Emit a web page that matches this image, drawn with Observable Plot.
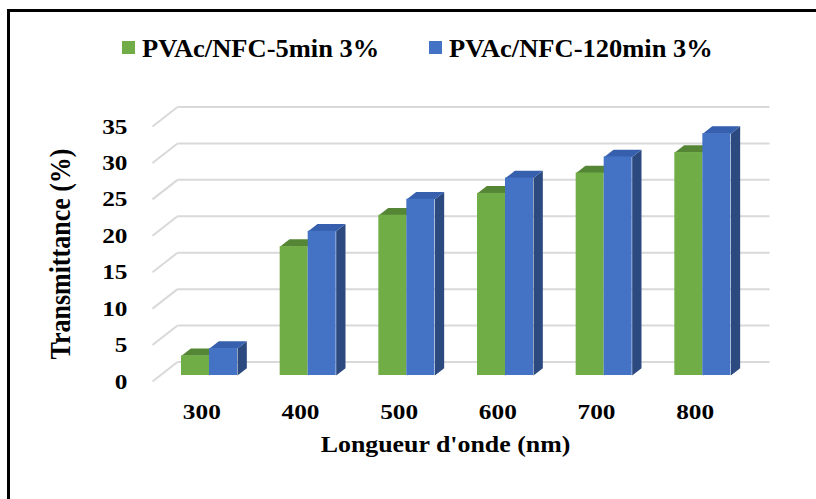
<!DOCTYPE html>
<html><head><meta charset="utf-8">
<script src="https://cdn.jsdelivr.net/npm/d3@7"></script>
<script src="https://cdn.jsdelivr.net/npm/@observablehq/plot@0.6"></script>
<style>
html,body{margin:0;padding:0;background:#fff;overflow:hidden;}
#wrap{position:relative;width:816px;height:499px;overflow:hidden;font-family:"Liberation Serif","Times New Roman",serif;font-weight:bold;}
#frameTop{position:absolute;left:7px;top:9px;width:809px;height:3px;background:#000;pointer-events:none;}
#frameLeft{position:absolute;left:7px;top:9px;width:3px;height:490px;background:#000;pointer-events:none;}
#legend{position:relative;height:70px;}
.sw{position:absolute;top:41px;width:13px;height:13px;}
.lab{position:absolute;top:35.5px;white-space:nowrap;font-size:25px;line-height:25px;transform:scaleX(1.06);transform-origin:0 50%;color:#000;}
#chart svg{display:block;}
</style></head>
<body><div id="wrap"><div id="legend"></div><div id="chart"></div><div id="frameTop"></div><div id="frameLeft"></div></div>
<script>
// ---- data ----
const categories = ["300", "400", "500", "600", "700", "800"];
const seriesNames = ["PVAc/NFC-5min 3%", "PVAc/NFC-120min 3%"];
const pvac5min = [2.7, 17.7, 22.0, 25.0, 27.8, 30.6];
const pvac120min = [3.7, 19.8, 24.2, 27.1, 30.0, 33.2];
const yTicks = [0, 5, 10, 15, 20, 25, 30, 35];
const xTitle = "Longueur d'onde (nm)";
const yTitle = "Transmittance (%)";

// ---- styles ----
const frontColors = ["#70AD47", "#4472C4"];
const topColors = ["#558636", "#3660ad"];
const sideColors = ["#4b7a2f", "#2c4a80"];
const gridColor = "#d9d9d9";
const font = `"Liberation Serif","Times New Roman",serif`;

// ---- legend (HTML) ----
const legend = document.getElementById("legend");
const legendLeft = [122, 429];
seriesNames.forEach((name, s) => {
  const sw = document.createElement("div");
  sw.className = "sw";
  sw.style.left = legendLeft[s] + "px";
  sw.style.background = frontColors[s];
  legend.appendChild(sw);
  const lab = document.createElement("div");
  lab.className = "lab";
  lab.style.left = (legendLeft[s] + 20) + "px";
  lab.textContent = name;
  legend.appendChild(lab);
});

// ---- layout & pseudo-3D geometry ----
const W = 816, H = 429;
const mL = 152, mR = 72, mT = 56, mB = 118;
const yMax = d3.max(yTicks);
const pxX = (W - mL - mR) / categories.length;
const pxY = (H - mT - mB) / yMax;
const wallDX = 25, wallDY = 19.5;     // depth of the floor, px
const z0 = 0.307, z1 = 0.68;          // bar front/back depth fraction
const barW = 28 / pxX;                // bar width in x units
const proj = (x, y, z) => ({x: x + z * wallDX / pxX, y: y + z * wallDY / pxY});

const series = [pvac5min, pvac120min];
const fronts = [[], []], tops = [[], []], sides = [[], []];
series.forEach((vals, s) => {
  vals.forEach((v, i) => {
    const cx = i + 0.5;
    const xl = cx - barW + s * barW, xr = xl + barW;
    const a = proj(xl, 0, z0), b = proj(xr, v, z0);
    fronts[s].push({x1: a.x, x2: b.x, y1: a.y, y2: b.y});
    const id = categories[i] + "-" + s;
    [proj(xl, v, z0), proj(xr, v, z0), proj(xr, v, z1), proj(xl, v, z1)]
      .forEach(p => tops[s].push({id, ...p}));
    [proj(xr, 0, z0), proj(xr, v, z0), proj(xr, v, z1), proj(xr, 0, z1)]
      .forEach(p => sides[s].push({id, ...p}));
  });
});

const marks = [];
// back wall gridlines and left-side diagonals
marks.push(Plot.link(yTicks, {
  x1: d => proj(0, d, 1).x, y1: d => proj(0, d, 1).y,
  x2: d => proj(categories.length, d, 1).x, y2: d => proj(categories.length, d, 1).y,
  stroke: gridColor, strokeWidth: 2
}));
marks.push(Plot.link(yTicks, {
  x1: 0, y1: d => d,
  x2: d => proj(0, d, 1).x, y2: d => proj(0, d, 1).y,
  stroke: gridColor, strokeWidth: 2
}));
// bars
[0, 1].forEach(s => {
  marks.push(Plot.line(sides[s], {x: "x", y: "y", z: "id", fill: sideColors[s], stroke: "none"}));
  marks.push(Plot.line(tops[s], {x: "x", y: "y", z: "id", fill: topColors[s], stroke: "none"}));
  marks.push(Plot.rect(fronts[s], {x1: "x1", x2: "x2", y1: "y1", y2: "y2", fill: frontColors[s]}));
});
// tick labels & titles
marks.push(Plot.text(yTicks, {
  x: 0, y: d => d, text: d => String(d), textAnchor: "end", dx: -25,
  fontSize: 22, fontWeight: "bold", fontFamily: font, fill: "#000", className: "stretch"
}));
marks.push(Plot.text(categories, {
  x: (d, i) => i + 0.5, y: 0, text: d => d, dy: 30,
  fontSize: 22, fontWeight: "bold", fontFamily: font, fill: "#000", className: "stretch"
}));
marks.push(Plot.text([xTitle], {
  frameAnchor: "bottom", textAnchor: "middle", text: d => d, dy: 70, dx: -3,
  fontSize: 22.5, fontWeight: "bold", fontFamily: font, fill: "#000", className: "stretch"
}));
marks.push(Plot.text([yTitle], {
  frameAnchor: "left", textAnchor: "middle", text: d => d, rotate: -90, dx: -92,
  fontSize: 26, fontWeight: "bold", fontFamily: font, fill: "#000", className: "stretchv"
}));

const chart = Plot.plot({
  width: W, height: H,
  marginLeft: mL, marginRight: mR, marginTop: mT, marginBottom: mB,
  x: {type: "linear", domain: [0, categories.length], axis: null},
  y: {type: "linear", domain: [0, yMax], axis: null},
  style: {background: "transparent"},
  marks
});
document.getElementById("chart").appendChild(chart);

// horizontal stretching of text, as in the reference
d3.select(chart).selectAll(".stretch text").each(function () {
  const t = this.getAttribute("transform") || "";
  this.setAttribute("transform", t + " scale(1.15,1)");
});
d3.select(chart).selectAll(".stretchv text").each(function () {
  const t = this.getAttribute("transform") || "";
  this.setAttribute("transform", t + " scale(1,1.12)");
});
</script>
</body></html>
